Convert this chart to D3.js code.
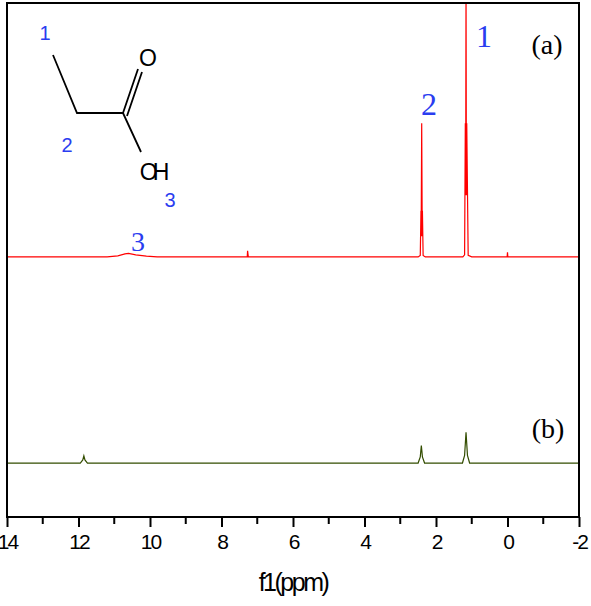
<!DOCTYPE html><html><head><meta charset="utf-8"><script src="https://d3js.org/d3.v7.min.js"></script>
<style>body{margin:0;background:#fff}</style></head><body><svg id="c" width="591" height="606"></svg>
<script>
// spectrum (a): [ppm, intensity]
const specA=[[14,0],[11.2,0],[10.9,0.2],[10.7,0.6],[10.6,0.7],[10.4,0.4],[10.1,0.15],[9.8,0],[7.28,0],[7.27,1.2],[7.25,0],
[2.5,0],[2.44,0.3],[2.42,9],[2.415,4],[2.40,26],[2.385,4],[2.38,9],[2.36,0.3],[2.3,0],[1.25,0],[1.2,0.4],[1.18,26],[1.17,12],[1.16,54],[1.15,12],[1.14,26],[1.1,0.3],[1.0,0],[0.01,0],[0,0.9],[-0.01,0],[-2,0]];
const specB=[[14,0],[11.95,0],[11.88,0.6],[11.85,1.4],[11.82,0.6],[11.75,0],[2.5,0],[2.44,1.2],[2.41,3.4],[2.38,1.2],[2.32,0],[1.26,0],[1.2,1.5],[1.16,6],[1.12,1.5],[1.06,0],[-2,0]];
const offsetA=50.6, offsetB=10.5;
const xTicks=[14,12,10,8,6,4,2,0,-2];
const minorTicks=[13,11,9,7,5,3,1,-1];
const svg=d3.select("#c");
const L=7,R=579,T=3,B=517;
const x=d3.scaleLinear().domain([14,-2]).range([L,R]);
const y=d3.scaleLinear().domain([0,100]).range([B,T]);
svg.append("clipPath").attr("id","cp").append("rect").attr("x",L).attr("y",T).attr("width",R-L).attr("height",B-T);
const line=off=>d3.line().x(d=>x(d[0])).y(d=>y(d[1]+off));
svg.append("path").attr("clip-path","url(#cp)").attr("d",line(offsetA)(specA)).attr("fill","none").attr("stroke","#ff0000").attr("stroke-width",1.2);
svg.append("path").attr("clip-path","url(#cp)").attr("d",line(offsetB)(specB)).attr("fill","none").attr("stroke","#334d00").attr("stroke-width",1.2);
svg.append("rect").attr("x",L).attr("y",T).attr("width",R-L).attr("height",B-T).attr("fill","none").attr("stroke","#000").attr("stroke-width",2);
const ax=svg.append("g").attr("transform",`translate(0,${B})`).call(d3.axisBottom(x).tickValues(xTicks).tickSize(10).tickPadding(7).tickFormat(d=>String(d)));
ax.select(".domain").remove();
ax.selectAll("line").attr("stroke-width",2);
ax.selectAll("text").attr("font-family","Liberation Sans").attr("font-size",21).attr("letter-spacing",-2).attr("fill","#000");
svg.append("g").selectAll("line").data(minorTicks).join("line").attr("x1",d=>x(d)).attr("x2",d=>x(d)).attr("y1",B).attr("y2",B+7).attr("stroke","#000").attr("stroke-width",2);
svg.append("text").attr("x",293).attr("y",591).attr("text-anchor","middle").attr("font-family","Liberation Sans").attr("font-size",25).attr("letter-spacing",-2.5).text("f1(ppm)");
// molecule
const m=svg.append("g").attr("stroke","#000").attr("stroke-width",1.8).attr("fill","none");
m.append("path").attr("d","M53,55 L77,113 L123,113 L141,152");
m.append("path").attr("d","M123,113 L138,69 M127,116 L142,72");
const tx=(t,xx,yy,s,c,f)=>svg.append("text").attr("x",xx).attr("y",yy).attr("font-family",f).attr("font-size",s).attr("fill",c).attr("text-anchor","middle").text(t);
tx("O",148,66,23,"#000","Liberation Sans");
tx("OH",152,180,23,"#000","Liberation Sans").attr("letter-spacing",-5);
const blue="#2a3df0";
tx("1",45,40,20,blue,"Liberation Sans");tx("2",67,152,20,blue,"Liberation Sans");tx("3",170,207,20,blue,"Liberation Sans");
tx("1",484,47,32,blue,"Liberation Serif");tx("2",429,115,32,blue,"Liberation Serif");tx("3",138,251,28,blue,"Liberation Serif");
tx("(a)",547,54,28,"#000","Liberation Serif");tx("(b)",548,438,28,"#000","Liberation Serif");
</script></body></html>
